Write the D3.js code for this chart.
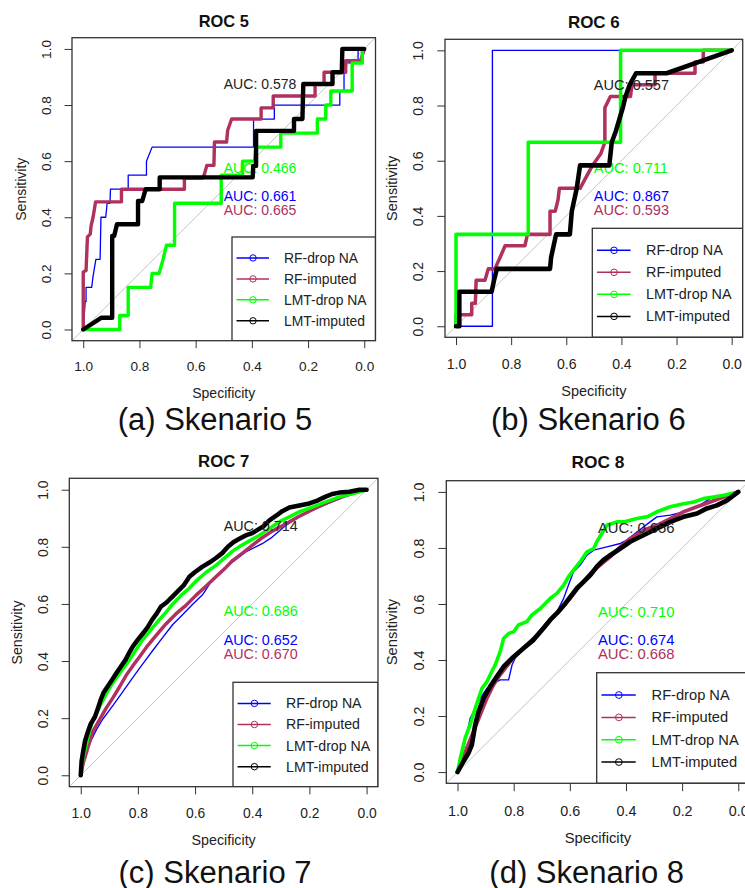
<!DOCTYPE html>
<html>
<head>
<meta charset="utf-8">
<script src="https://cdn.jsdelivr.net/npm/d3@7"></script>
<style>
  body { margin: 0; background: #fff; }
  svg text { font-family: "Liberation Sans", Arial, sans-serif; }
</style>
</head>
<body>
<svg id="chart"></svg>
<script>
// series order: RF-drop NA, RF-imputed, LMT-drop NA, LMT-imputed
let seriesNames = ["RF-drop NA", "RF-imputed", "LMT-drop NA", "LMT-imputed"];
let seriesColors = ["#0000ff", "#b03060", "#00ff00", "#000000"];
let tickValues = [1, 0.8, 0.6, 0.4, 0.2, 0];
let aucLabelY = [0.5, 0.45, 0.6, 0.9];

let titles = ["ROC 5", "ROC 6", "ROC 7", "ROC 8"];
let captions = ["(a) Skenario 5", "(b) Skenario 6", "(c) Skenario 7", "(d) Skenario 8"];
let auc5 = [0.661, 0.665, 0.466, 0.578];
let auc6 = [0.867, 0.593, 0.711, 0.557];
let auc7 = [0.652, 0.670, 0.686, 0.714];
let auc8 = [0.674, 0.668, 0.710, 0.656];

// [specificity, sensitivity]
let roc5_rfDrop = [[1,0],[0.993,0.10],[0.99,0.10],[0.99,0.15],[0.97,0.15],[0.965,0.19],[0.955,0.25],[0.94,0.25],[0.937,0.40],[0.92,0.40],[0.915,0.45],[0.905,0.45],[0.903,0.50],[0.84,0.50],[0.84,0.55],[0.775,0.55],[0.775,0.60],[0.755,0.65],[0.394,0.65],[0.394,0.75],[0.32,0.75],[0.32,0.80],[0.087,0.80],[0.087,0.85],[0.072,0.85],[0.072,0.95],[0.022,0.95],[0.022,1],[0,1]];
let roc5_rfImp = [[1,0],[1,0.205],[0.99,0.21],[0.985,0.33],[0.975,0.34],[0.972,0.37],[0.965,0.40],[0.956,0.455],[0.864,0.455],[0.864,0.50],[0.64,0.50],[0.64,0.54],[0.574,0.54],[0.57,0.55],[0.56,0.585],[0.535,0.585],[0.533,0.668],[0.49,0.668],[0.486,0.71],[0.472,0.75],[0.367,0.75],[0.367,0.79],[0.324,0.79],[0.324,0.832],[0.175,0.832],[0.175,0.876],[0.143,0.876],[0.143,0.917],[0.066,0.917],[0.066,0.958],[0.013,0.958],[0,1]];
let roc5_lmtDrop = [[1,0],[0.87,0],[0.87,0.05],[0.84,0.05],[0.84,0.15],[0.76,0.15],[0.755,0.20],[0.73,0.20],[0.716,0.25],[0.704,0.30],[0.675,0.30],[0.675,0.45],[0.509,0.45],[0.509,0.55],[0.433,0.55],[0.433,0.60],[0.391,0.60],[0.385,0.65],[0.297,0.65],[0.297,0.70],[0.167,0.70],[0.167,0.75],[0.137,0.75],[0.137,0.80],[0.119,0.80],[0.119,0.85],[0.043,0.85],[0.043,0.95],[0.007,0.95],[0.007,1],[0,1]];
let roc5_lmtImp = [[1,0],[0.935,0.042],[0.897,0.042],[0.897,0.333],[0.89,0.333],[0.88,0.375],[0.805,0.375],[0.805,0.458],[0.79,0.458],[0.778,0.50],[0.728,0.50],[0.728,0.542],[0.397,0.542],[0.395,0.583],[0.385,0.583],[0.385,0.708],[0.25,0.708],[0.25,0.75],[0.22,0.75],[0.217,0.875],[0.113,0.875],[0.113,0.917],[0.08,0.917],[0.078,1],[0,1]];

let roc6_rfDrop = [[1,0],[0.868,0],[0.868,1],[0,1]];
let roc6_rfImp = [[1,0],[1,0.042],[0.943,0.042],[0.943,0.083],[0.93,0.083],[0.927,0.167],[0.895,0.167],[0.883,0.208],[0.859,0.208],[0.84,0.25],[0.822,0.292],[0.75,0.292],[0.741,0.333],[0.659,0.333],[0.659,0.417],[0.64,0.417],[0.63,0.458],[0.625,0.5],[0.55,0.5],[0.505,0.583],[0.475,0.625],[0.46,0.667],[0.46,0.792],[0.44,0.833],[0.367,0.833],[0.362,0.875],[0.278,0.875],[0.278,0.917],[0.133,0.917],[0.133,0.958],[0.103,0.958],[0.103,1],[0,1]];
let roc6_lmtDrop = [[1,0],[1,0.333],[0.738,0.333],[0.738,0.667],[0.403,0.667],[0.403,1],[0,1]];
let roc6_lmtImp = [[1,0],[0.988,0],[0.988,0.125],[0.871,0.125],[0.862,0.167],[0.852,0.208],[0.659,0.208],[0.655,0.25],[0.637,0.333],[0.587,0.333],[0.58,0.417],[0.562,0.5],[0.55,0.583],[0.444,0.583],[0.435,0.667],[0.42,0.708],[0.395,0.792],[0.385,0.833],[0.37,0.875],[0.347,0.917],[0.236,0.917],[0,1]];

let roc7_rfDrop = [[1,0],[0.992,0.041],[0.969,0.111],[0.945,0.16],[0.922,0.198],[0.887,0.245],[0.852,0.294],[0.818,0.342],[0.783,0.39],[0.748,0.437],[0.713,0.483],[0.678,0.528],[0.643,0.563],[0.609,0.598],[0.574,0.632],[0.539,0.685],[0.492,0.729],[0.423,0.782],[0.365,0.811],[0.33,0.834],[0.283,0.875],[0.237,0.904],[0.179,0.933],[0.121,0.957],[0.063,0.98],[0,1]];
let roc7_rfImp = [[1,0],[0.992,0.04],[0.974,0.1],[0.957,0.155],[0.934,0.195],[0.911,0.235],[0.887,0.272],[0.864,0.31],[0.841,0.35],[0.818,0.383],[0.794,0.415],[0.765,0.455],[0.736,0.49],[0.702,0.53],[0.667,0.565],[0.632,0.595],[0.597,0.63],[0.562,0.662],[0.527,0.695],[0.492,0.728],[0.469,0.752],[0.434,0.778],[0.4,0.805],[0.365,0.832],[0.33,0.855],[0.283,0.88],[0.237,0.906],[0.19,0.93],[0.144,0.952],[0.086,0.975],[0.04,0.99],[0,1]];
let roc7_lmtDrop = [[1,0],[0.992,0.06],[0.98,0.11],[0.969,0.155],[0.957,0.195],[0.934,0.24],[0.911,0.285],[0.887,0.325],[0.858,0.365],[0.829,0.405],[0.806,0.44],[0.783,0.475],[0.754,0.51],[0.725,0.545],[0.702,0.57],[0.678,0.6],[0.649,0.63],[0.62,0.655],[0.597,0.68],[0.562,0.71],[0.527,0.735],[0.492,0.765],[0.469,0.785],[0.446,0.8],[0.411,0.82],[0.376,0.84],[0.341,0.863],[0.307,0.887],[0.272,0.904],[0.237,0.922],[0.19,0.939],[0.144,0.957],[0.098,0.974],[0.051,0.986],[0,1]];
let roc7_lmtImp = [[1,0],[0.997,0.05],[0.992,0.08],[0.985,0.12],[0.974,0.155],[0.965,0.18],[0.95,0.205],[0.938,0.24],[0.93,0.265],[0.92,0.29],[0.903,0.315],[0.89,0.335],[0.875,0.358],[0.86,0.38],[0.843,0.405],[0.83,0.43],[0.817,0.452],[0.8,0.475],[0.78,0.5],[0.765,0.52],[0.75,0.545],[0.735,0.565],[0.72,0.59],[0.7,0.605],[0.68,0.625],[0.66,0.645],[0.64,0.665],[0.62,0.695],[0.6,0.712],[0.575,0.73],[0.55,0.745],[0.528,0.76],[0.505,0.778],[0.485,0.8],[0.465,0.817],[0.445,0.828],[0.423,0.84],[0.4,0.848],[0.38,0.86],[0.36,0.872],[0.34,0.893],[0.315,0.91],[0.295,0.925],[0.27,0.938],[0.235,0.945],[0.2,0.952],[0.17,0.963],[0.145,0.975],[0.12,0.985],[0.095,0.99],[0.06,0.993],[0.025,1],[0,1]];

let roc8_rfDrop = [[1,0],[0.99,0.038],[0.973,0.109],[0.955,0.192],[0.919,0.264],[0.895,0.299],[0.872,0.317],[0.848,0.329],[0.818,0.329],[0.806,0.382],[0.789,0.418],[0.753,0.454],[0.717,0.495],[0.682,0.537],[0.646,0.572],[0.622,0.62],[0.605,0.667],[0.587,0.715],[0.563,0.739],[0.539,0.774],[0.515,0.792],[0.468,0.804],[0.42,0.816],[0.397,0.828],[0.361,0.857],[0.314,0.893],[0.29,0.911],[0.242,0.917],[0.195,0.929],[0.147,0.947],[0.1,0.976],[0.052,0.988],[0,1]];
let roc8_rfImp = [[1,0],[0.985,0.038],[0.967,0.086],[0.943,0.145],[0.919,0.204],[0.895,0.264],[0.872,0.311],[0.848,0.347],[0.812,0.394],[0.777,0.43],[0.741,0.466],[0.705,0.501],[0.67,0.543],[0.634,0.578],[0.599,0.62],[0.563,0.667],[0.527,0.709],[0.492,0.739],[0.456,0.768],[0.42,0.804],[0.385,0.834],[0.337,0.863],[0.29,0.881],[0.242,0.905],[0.195,0.929],[0.147,0.947],[0.1,0.964],[0.052,0.982],[0,1]];
let roc8_lmtDrop = [[1,0],[0.99,0.05],[0.973,0.121],[0.955,0.169],[0.937,0.228],[0.913,0.299],[0.895,0.323],[0.878,0.359],[0.866,0.382],[0.848,0.43],[0.836,0.477],[0.818,0.495],[0.8,0.501],[0.783,0.525],[0.753,0.537],[0.735,0.561],[0.705,0.584],[0.67,0.62],[0.646,0.638],[0.622,0.667],[0.605,0.697],[0.587,0.721],[0.563,0.751],[0.539,0.786],[0.515,0.798],[0.504,0.822],[0.468,0.881],[0.432,0.893],[0.409,0.893],[0.361,0.905],[0.325,0.911],[0.29,0.929],[0.242,0.947],[0.195,0.958],[0.159,0.964],[0.124,0.976],[0.088,0.982],[0.052,0.988],[0,1]];
let roc8_lmtImp = [[1,0],[0.979,0.038],[0.961,0.068],[0.949,0.097],[0.937,0.169],[0.925,0.216],[0.907,0.264],[0.884,0.305],[0.86,0.341],[0.836,0.376],[0.8,0.412],[0.765,0.442],[0.729,0.472],[0.694,0.513],[0.67,0.543],[0.646,0.567],[0.616,0.602],[0.593,0.632],[0.575,0.656],[0.551,0.679],[0.527,0.703],[0.504,0.733],[0.48,0.757],[0.456,0.774],[0.42,0.798],[0.385,0.822],[0.349,0.84],[0.314,0.857],[0.278,0.875],[0.242,0.893],[0.195,0.911],[0.147,0.923],[0.112,0.941],[0.076,0.952],[0.04,0.97],[0,1]];

let width = 745;
let height = 888;
let lineWidths = [1.3, 3.4, 3.4, 4.4];

// layout of the four panels: plot box [left, top, right, bottom], legend corner, caption spot, font scale
let panels = [
  { curves: [roc5_rfDrop, roc5_rfImp, roc5_lmtDrop, roc5_lmtImp], auc: auc5,
    box: [72, 37.7, 375.5, 340.7], leg: [232, 237], cap: [215, 430], titleY: 26.5, fs: 1 },
  { curves: [roc6_rfDrop, roc6_rfImp, roc6_lmtDrop, roc6_lmtImp], auc: auc6,
    box: [445, 39.3, 742.7, 337.3], leg: [592.3, 228.3], cap: [588.3, 430], titleY: 28, fs: 1.035 },
  { curves: [roc7_rfDrop, roc7_rfImp, roc7_lmtDrop, roc7_lmtImp], auc: auc7,
    box: [69.3, 478.3, 378, 786.7], leg: [233, 682.3], cap: [215, 883], titleY: 467.3, fs: 1.02 },
  { curves: [roc8_rfDrop, roc8_rfImp, roc8_lmtDrop, roc8_lmtImp], auc: auc8,
    box: [446.3, 480.7, 749.5, 783.3], leg: [596.7, 672.7], cap: [586.7, 883], titleY: 468.3, fs: 1.055 }
];

let svg = d3.select('#chart')
  .attr('width', width)
  .attr('height', height);

panels.forEach((p, i) => drawPanel(p, i));

function drawPanel(p, i) {
  let [left, top, right, bottom] = p.box;
  let fs = p.fs;
  let x = d3.scaleLinear().domain([1.04, -0.04]).range([left, right]);
  let y = d3.scaleLinear().domain([-0.04, 1.04]).range([bottom, top]);
  let g = svg.append('g');

  let clipId = 'clip' + i;
  g.append('clipPath').attr('id', clipId)
    .append('rect')
    .attr('x', left).attr('y', top)
    .attr('width', right - left).attr('height', bottom - top);

  // chance diagonal
  g.append('line')
    .attr('x1', x(1.04)).attr('y1', y(-0.04))
    .attr('x2', x(-0.04)).attr('y2', y(1.04))
    .attr('stroke', '#c4c4c4')
    .attr('stroke-width', 1)
    .attr('clip-path', `url(#${clipId})`);

  let line = d3.line().x(d => x(d[0])).y(d => y(d[1]));
  p.curves.forEach((c, k) => {
    g.append('path')
      .attr('d', line(c))
      .attr('fill', 'none')
      .attr('stroke', seriesColors[k])
      .attr('stroke-width', lineWidths[k] * fs)
      .attr('stroke-linejoin', 'round')
      .attr('stroke-linecap', 'round');
    g.append('text')
      .attr('x', x(0.5))
      .attr('y', y(aucLabelY[k]) + 12 * fs)
      .attr('font-size', 14.06 * fs)
      .attr('fill', k == 3 ? '#222' : seriesColors[k])
      .text('AUC: ' + d3.format('.3f')(p.auc[k]));
  });

  // axes
  let fmt = d3.format('.1f');
  let gx = g.append('g')
    .attr('transform', `translate(0,${bottom})`)
    .call(d3.axisBottom(x).tickValues(tickValues).tickFormat(fmt).tickSize(7.5 * fs).tickSizeOuter(0))
    .attr('font-size', 13.6 * fs)
    .attr('font-family', null);
  gx.select('.domain').remove();
  gx.selectAll('.tick line').attr('stroke', '#333');
  gx.selectAll('.tick text')
    .attr('y', 26 * fs).attr('dy', null)
    .attr('dominant-baseline', 'central')
    .attr('fill', '#222');

  let gy = g.append('g')
    .attr('transform', `translate(${left},0)`)
    .call(d3.axisLeft(y).tickValues(tickValues).tickFormat(fmt).tickSize(7.5 * fs).tickSizeOuter(0))
    .attr('font-size', 13.6 * fs)
    .attr('font-family', null);
  gy.select('.domain').remove();
  gy.selectAll('.tick line').attr('stroke', '#333');
  gy.selectAll('.tick text')
    .attr('x', null).attr('dy', null)
    .attr('transform', `translate(${-26 * fs},0) rotate(-90)`)
    .attr('text-anchor', 'middle')
    .attr('dominant-baseline', 'central')
    .attr('fill', '#222');

  // plot frame
  g.append('rect')
    .attr('x', left).attr('y', top)
    .attr('width', right - left).attr('height', bottom - top)
    .attr('fill', 'none')
    .attr('stroke', '#333')
    .attr('stroke-width', 1.3);

  // titles
  let cx = (left + right) / 2;
  let cy = (top + bottom) / 2;
  g.append('text')
    .attr('x', cx).attr('y', p.titleY)
    .attr('text-anchor', 'middle')
    .attr('font-weight', 'bold')
    .attr('font-size', 16.4 * fs)
    .attr('fill', '#111')
    .text(titles[i]);
  g.append('text')
    .attr('x', cx).attr('y', bottom + 52 * fs)
    .attr('text-anchor', 'middle')
    .attr('dominant-baseline', 'central')
    .attr('font-size', 14 * fs)
    .attr('fill', '#222')
    .text('Specificity');
  g.append('text')
    .attr('transform', `translate(${left - 51 * fs},${cy}) rotate(-90)`)
    .attr('text-anchor', 'middle')
    .attr('dominant-baseline', 'central')
    .attr('font-size', 14 * fs)
    .attr('fill', '#222')
    .text('Sensitivity');

  // legend, anchored bottom-right of the plot box
  let [lx, ly] = p.leg;
  let lh = bottom - ly;
  let lg = g.append('g').attr('clip-path', `url(#${clipId})`);
  lg.append('rect')
    .attr('x', lx).attr('y', ly)
    .attr('width', right - lx).attr('height', lh)
    .attr('fill', 'none')
    .attr('stroke', '#333')
    .attr('stroke-width', 1.3);
  seriesNames.forEach((name, k) => {
    let yy = ly + (k + 1) * lh / 4.95;
    lg.append('line')
      .attr('x1', lx + 4.5 * fs).attr('x2', lx + 37 * fs)
      .attr('y1', yy).attr('y2', yy)
      .attr('stroke', seriesColors[k])
      .attr('stroke-width', 1.5);
    lg.append('circle')
      .attr('cx', lx + 21 * fs).attr('cy', yy)
      .attr('r', 3.2 * fs)
      .attr('fill', 'none')
      .attr('stroke', seriesColors[k])
      .attr('stroke-width', 1);
    lg.append('text')
      .attr('x', lx + 52 * fs).attr('y', yy)
      .attr('dominant-baseline', 'central')
      .attr('font-size', 13.9 * fs)
      .attr('fill', '#222')
      .text(name);
  });

  // sub-figure caption
  g.append('text')
    .attr('x', p.cap[0]).attr('y', p.cap[1])
    .attr('text-anchor', 'middle')
    .attr('font-size', 31)
    .attr('fill', '#111')
    .text(captions[i]);
}
</script>
</body>
</html>
